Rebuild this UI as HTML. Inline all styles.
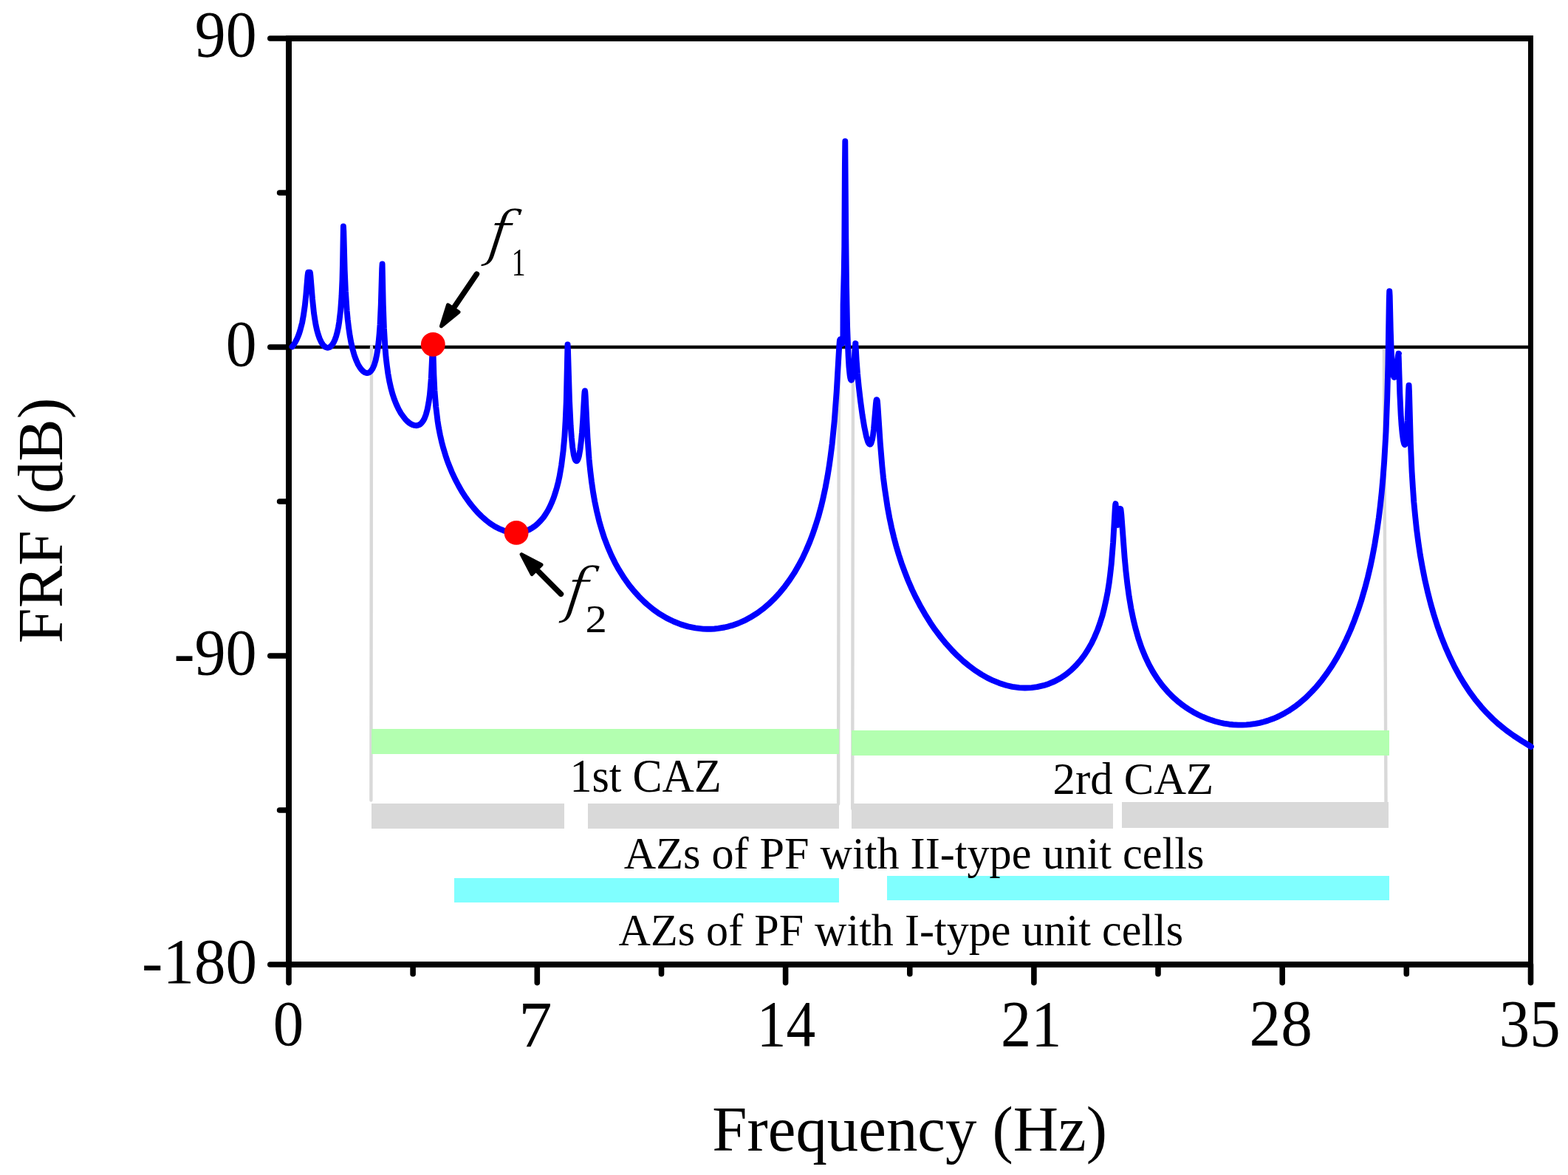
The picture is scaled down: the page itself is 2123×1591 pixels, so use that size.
<!DOCTYPE html>
<html lang="en">
<head>
<meta charset="utf-8">
<title>FRF (dB) vs Frequency (Hz)</title>
<style>
html,body{margin:0;padding:0;background:#fff;}
body{width:2123px;height:1591px;font-family:"Liberation Serif",serif;}
svg{display:block;}
</style>
</head>
<body>
<svg width="2123" height="1591" viewBox="0 0 2123 1591" font-family="'Liberation Serif', serif" font-size="100px" fill="#000" role="img" aria-label="FRF (dB) versus Frequency (Hz)">
<rect width="2123" height="1591" fill="#fff"/>
<g stroke="#000" fill="none">
<g fill="#000" stroke="none"><rect x="387" y="48" width="1689" height="8"/><rect x="387" y="1302" width="1689" height="8"/><rect x="387" y="48" width="8" height="1262"/><rect x="2069" y="48" width="7" height="1262"/></g>
<g stroke-width="7.6" stroke-linecap="round">
<line x1="365.8" y1="52.0" x2="391.0" y2="52.0"/>
<line x1="365.8" y1="470.0" x2="391.0" y2="470.0"/>
<line x1="365.8" y1="888.0" x2="391.0" y2="888.0"/>
<line x1="365.8" y1="1306.0" x2="391.0" y2="1306.0"/>
<line x1="378.6" y1="261.0" x2="391.0" y2="261.0"/>
<line x1="378.6" y1="679.0" x2="391.0" y2="679.0"/>
<line x1="378.6" y1="1097.0" x2="391.0" y2="1097.0"/>
<line x1="391.0" y1="1306.0" x2="391.0" y2="1330.6"/>
<line x1="727.3" y1="1306.0" x2="727.3" y2="1330.6"/>
<line x1="1063.6" y1="1306.0" x2="1063.6" y2="1330.6"/>
<line x1="1399.9" y1="1306.0" x2="1399.9" y2="1330.6"/>
<line x1="1736.2" y1="1306.0" x2="1736.2" y2="1330.6"/>
<line x1="2072.5" y1="1306.0" x2="2072.5" y2="1330.6"/>
<line x1="559.1" y1="1306.0" x2="559.1" y2="1318.8"/>
<line x1="895.5" y1="1306.0" x2="895.5" y2="1318.8"/>
<line x1="1231.8" y1="1306.0" x2="1231.8" y2="1318.8"/>
<line x1="1568.0" y1="1306.0" x2="1568.0" y2="1318.8"/>
<line x1="1904.3" y1="1306.0" x2="1904.3" y2="1318.8"/>
</g>
<line x1="391.0" y1="470.0" x2="2072.5" y2="470.0" stroke-width="4.6"/>
</g>
<g stroke="#d9d9d9" stroke-width="4.4" stroke-linecap="round" fill="none">
<line x1="503.0" y1="469.5" x2="502.4" y2="1083.5"/>
<line x1="1135.8" y1="474" x2="1135.1" y2="1088.5"/>
<line x1="1155.0" y1="474" x2="1154.2" y2="1095"/>
<line x1="1873.9" y1="474" x2="1876.5" y2="1086"/>
</g>
<g>
<rect x="503" y="987" width="633" height="34" fill="#b3ffb0"/>
<rect x="1153" y="989" width="728" height="34" fill="#b3ffb0"/>
<rect x="503" y="1088" width="261" height="34" fill="#d9d9d9"/>
<rect x="796" y="1088" width="340" height="34" fill="#d9d9d9"/>
<rect x="1153" y="1088" width="354" height="34" fill="#d9d9d9"/>
<rect x="1519" y="1086" width="361" height="35" fill="#d9d9d9"/>
<rect x="615" y="1189" width="521" height="33" fill="#80ffff"/>
<rect x="1201" y="1186" width="680" height="33" fill="#80ffff"/>
</g>
<path d="M395.5 469.5 397.7 466.7 399.7 463.5 401.6 459.9 403.3 456.2 404.9 452.0 406.4 447.3 409.1 437.0 411.0 426.5 412.8 413.9 414.3 399.6 416.5 373.3 417.0 369.7 417.3 368.7 419.7 368.7 420.0 369.7 420.4 373.1 423.0 404.9 425.0 423.9 426.3 432.4 427.6 440.1 429.1 446.9 430.8 452.9 432.7 458.4 435.0 463.3 437.4 467.0 439.9 469.4 441.0 470.1 442.4 470.6 443.7 470.8 445.1 470.5 446.5 470.0 447.6 469.2 449.9 466.7 451.8 463.7 453.5 459.9 455.2 455.1 456.7 449.5 458.1 443.0 459.2 436.3 461.1 420.2 462.5 401.1 463.5 378.5 464.1 353.5 464.9 306.4 464.9 306.4 465.3 312.9 466.7 366.2 467.9 394.2 469.7 421.1 470.8 432.7 472.2 444.4 473.7 454.8 475.6 465.0 477.5 473.0 479.7 480.8 482.1 487.4 484.8 493.5 487.7 498.2 489.3 500.3 490.9 502.0 492.4 503.4 494.0 504.3 495.6 504.9 496.9 505.1 498.4 504.9 499.7 504.4 501.1 503.5 502.3 502.3 504.6 499.0 506.7 494.2 508.6 487.9 510.1 480.8 511.5 472.1 512.6 463.1 513.7 451.3 514.6 439.2 515.8 412.4 517.2 363.7 517.6 357.4 517.6 357.4 518.8 413.4 519.9 444.2 521.6 472.3 522.6 484.3 523.9 495.1 525.4 506.1 527.2 516.1 529.2 525.1 531.4 533.2 533.8 540.5 536.7 547.7 539.7 554.1 542.9 559.7 547.3 565.8 549.3 568.2 551.7 570.6 554.1 572.6 556.5 574.2 558.9 575.3 560.9 575.9 563.1 576.2 565.0 576.1 566.8 575.5 568.6 574.6 570.3 573.2 571.9 571.3 573.4 569.0 574.6 566.8 576.8 561.1 578.7 553.9 580.4 545.1 581.9 534.5 582.8 524.7 583.8 512.3 585.7 471.3 586.2 467.0 586.2 467.0 587.4 507.5 588.4 528.7 590.2 550.6 592.5 569.8 593.9 578.8 595.9 589.0 598.1 598.7 600.3 606.9 603.1 616.2 605.7 624.1 608.7 631.8 611.8 639.3 616.4 649.2 620.8 657.5 625.4 665.6 630.4 673.3 635.7 680.7 641.2 687.6 646.9 694.1 652.0 699.1 658.1 704.5 663.4 708.6 669.7 712.7 675.1 715.6 681.4 718.2 686.8 719.9 693.1 721.0 698.4 721.3 703.6 720.9 707.8 720.2 712.7 718.7 716.7 717.0 721.3 714.3 725.0 711.7 728.6 708.6 732.0 705.1 735.9 700.4 738.9 696.0 741.8 691.3 744.5 686.1 747.5 679.4 749.9 673.3 752.0 666.8 754.0 660.0 755.9 652.7 757.6 644.9 760.2 629.6 762.6 610.6 764.4 591.2 765.7 568.9 766.8 543.1 768.5 466.4 768.6 466.4 769.0 474.5 771.0 542.0 772.7 576.9 773.9 592.9 775.2 605.5 776.7 615.4 777.6 618.9 778.4 621.6 779.2 623.3 780.2 624.3 781.0 624.2 782.0 623.0 782.9 620.8 783.9 617.5 785.5 608.6 786.8 598.1 788.0 585.4 789.2 568.7 791.1 535.8 791.5 530.8 791.9 529.2 792.0 529.2 792.3 530.8 792.7 536.4 795.5 592.5 797.6 621.8 799.3 638.4 800.9 651.6 803.1 666.7 805.2 678.8 808.1 692.6 811.3 705.8 815.0 718.5 818.3 728.7 822.8 740.4 827.7 751.7 833.0 762.6 837.8 771.2 845.1 782.8 851.8 792.2 859.0 801.0 866.6 809.3 871.9 814.5 876.0 818.2 884.5 825.2 893.3 831.4 902.5 836.9 912.0 841.5 921.7 845.4 931.6 848.4 941.7 850.4 951.9 851.6 957.0 851.8 962.1 851.8 967.3 851.5 972.4 850.9 980.9 849.5 986.0 848.3 991.1 846.9 999.5 844.0 1007.7 840.4 1015.8 836.1 1025.4 830.1 1033.1 824.4 1040.6 818.1 1047.8 811.2 1056.2 802.1 1062.8 793.9 1069.2 785.2 1075.3 775.9 1081.0 766.1 1086.5 755.8 1091.6 744.9 1096.4 733.6 1100.0 724.2 1104.2 711.9 1108.2 699.1 1111.8 685.8 1114.4 674.8 1117.5 660.5 1120.3 645.6 1122.8 630.1 1124.6 617.3 1126.7 600.7 1129.8 569.5 1132.7 530.1 1136.2 469.8 1136.8 462.1 1137.1 460.2 1137.4 459.7 1137.4 459.7 1140.3 465.4 1141.4 459.3 1141.6 412.3 1142.7 370.6 1143.3 333.8 1143.9 225.3 1144.3 191.2 1144.3 191.2 1145.3 323.3 1146.0 385.0 1147.1 442.6 1148.6 481.8 1149.5 497.2 1150.6 507.9 1151.2 511.5 1151.8 513.7 1152.5 514.7 1152.8 514.6 1153.2 514.2 1153.7 512.8 1154.3 510.1 1155.5 501.9 1156.5 490.2 1157.9 468.8 1158.2 465.9 1158.4 465.0 1158.2 465.0 1158.5 467.2 1159.7 488.3 1161.0 505.6 1162.8 524.0 1165.1 543.5 1167.6 562.0 1170.3 578.3 1172.8 590.3 1175.0 597.8 1175.9 599.8 1176.8 601.1 1177.6 601.7 1178.3 601.6 1179.1 600.8 1179.7 599.5 1181.1 594.6 1182.1 588.7 1183.0 581.2 1185.9 546.8 1186.4 542.5 1186.8 541.2 1187.3 541.2 1187.6 541.7 1187.9 543.3 1188.4 548.7 1191.8 600.0 1194.5 632.4 1196.0 646.9 1197.8 661.0 1201.5 685.7 1204.4 701.5 1207.1 714.3 1210.1 726.9 1213.3 739.1 1216.9 751.1 1220.7 762.8 1224.9 774.2 1229.3 785.5 1235.0 798.6 1240.1 809.2 1246.6 821.6 1252.4 831.6 1259.6 843.2 1265.9 852.4 1273.9 863.0 1280.8 871.4 1289.3 880.9 1296.6 888.2 1304.1 895.1 1311.8 901.4 1321.1 908.3 1329.0 913.4 1336.9 917.9 1344.9 921.7 1353.0 924.9 1362.5 928.0 1370.5 929.8 1379.9 931.1 1387.7 931.5 1396.8 931.1 1404.2 930.2 1412.9 928.2 1419.9 925.9 1428.0 922.5 1435.8 918.2 1443.2 913.2 1450.2 907.5 1456.7 901.1 1462.9 894.1 1468.6 886.5 1473.0 879.6 1478.0 870.9 1481.7 863.1 1485.9 853.3 1489.0 844.6 1492.5 833.7 1495.0 824.0 1497.7 811.9 1499.8 801.2 1501.6 789.9 1503.1 778.2 1504.8 763.3 1507.1 734.5 1509.8 687.5 1510.2 683.2 1510.5 682.0 1510.5 682.0 1511.1 688.0 1512.0 702.4 1512.9 708.9 1513.3 710.1 1513.6 710.8 1514.0 710.6 1514.4 709.6 1515.4 705.1 1516.5 693.0 1517.0 688.8 1517.0 688.8 1517.4 689.4 1517.6 690.6 1518.3 696.8 1522.7 755.4 1524.4 773.3 1526.4 790.8 1528.7 807.7 1531.4 823.7 1534.5 838.7 1537.4 850.6 1541.2 864.1 1545.5 876.7 1550.3 888.5 1555.5 899.6 1561.2 910.0 1567.4 919.6 1574.1 928.6 1581.3 936.9 1585.1 940.8 1590.3 945.8 1594.3 949.3 1599.8 953.7 1605.6 957.9 1611.5 961.7 1617.6 965.3 1622.3 967.7 1628.6 970.7 1633.5 972.7 1640.1 975.1 1645.2 976.7 1652.0 978.5 1657.2 979.6 1664.2 980.7 1669.5 981.2 1676.6 981.6 1682.0 981.6 1687.4 981.4 1692.8 980.9 1700.0 979.9 1705.4 978.8 1710.8 977.5 1716.2 975.9 1723.4 973.3 1728.7 971.1 1734.0 968.5 1739.3 965.7 1744.5 962.7 1749.6 959.3 1754.7 955.7 1759.7 951.8 1768.0 944.7 1775.9 936.8 1782.2 930.1 1789.7 920.9 1796.9 911.1 1803.9 900.7 1810.6 889.6 1816.9 878.0 1822.9 865.7 1828.6 853.0 1833.9 839.7 1838.9 825.9 1843.6 811.7 1847.9 796.9 1851.9 781.7 1855.6 766.0 1858.3 753.0 1861.4 736.4 1864.2 719.1 1866.8 701.2 1868.6 686.4 1870.7 667.2 1872.5 647.1 1874.1 626.1 1876.5 585.1 1878.2 539.2 1879.4 493.4 1880.8 405.2 1881.2 394.2 1881.3 394.2 1881.7 400.5 1882.8 447.9 1883.7 474.1 1884.7 493.2 1886.0 505.4 1886.7 509.1 1887.4 510.8 1887.8 511.0 1888.2 510.8 1889.0 508.9 1889.7 505.8 1890.5 500.9 1892.9 481.5 1893.4 479.3 1893.9 478.6 1893.5 478.6 1893.8 484.9 1895.3 533.4 1896.7 562.2 1897.6 575.7 1898.7 587.3 1899.8 595.5 1901.0 600.6 1901.5 601.8 1902.0 602.2 1902.5 601.8 1902.9 600.8 1903.8 596.2 1904.5 589.0 1905.7 569.5 1907.1 527.7 1907.5 521.8 1907.6 521.8 1908.0 530.3 1909.9 600.1 1911.6 638.8 1912.9 659.8 1914.3 679.6 1916.1 698.5 1918.0 716.6 1920.3 734.1 1922.8 751.0 1925.7 767.3 1929.3 785.4 1932.8 800.7 1937.1 817.6 1941.2 831.9 1946.2 847.6 1951.6 862.6 1957.3 876.9 1963.3 890.3 1969.4 902.9 1975.8 914.7 1982.3 925.5 1989.6 936.7 1997.0 946.7 2005.1 956.6 2013.0 965.3 2021.3 973.6 2029.8 981.2 2039.5 989.0 2049.4 996.1 2060.5 1003.4 2073.0 1011.0" fill="none" stroke="#0000ff" stroke-width="7.9" stroke-linejoin="round" stroke-linecap="round"/>
<g>
<text transform="matrix(0.8376 0 0 0.8806 263.79 76.04)">90</text>
<text transform="matrix(0.8357 0 0 0.8806 305.66 495.14)">0</text>
<text transform="matrix(0.8424 0 0 0.8821 235.43 913.14)">-90</text>
<text transform="matrix(0.8514 0 0 0.8647 192.09 1330.97)">-180</text>
<text transform="matrix(0.8286 0 0 0.8776 369.69 1415.14)">0</text>
<text transform="matrix(0.9050 0 0 0.8862 702.16 1416.90)">7</text>
<text transform="matrix(0.7933 0 0 0.8864 1024.76 1416.20)">14</text>
<text transform="matrix(0.8233 0 0 0.8864 1355.01 1416.20)">21</text>
<text transform="matrix(0.8533 0 0 0.8851 1691.49 1415.13)">28</text>
<text transform="matrix(0.8275 0 0 0.9091 2029.86 1416.69)">35</text>
<text transform="matrix(0.8483 0 0 0.8633 964.36 1557.77)">Frequency (Hz)</text>
<text transform="matrix(0 -0.8615 0.8678 0 84.18 871.28)">FRF (dB)</text>
<text transform="matrix(0.6003 0 0 0.6353 771.50 1071.73)">1st CAZ</text>
<text transform="matrix(0.6074 0 0 0.6211 1425.57 1074.66)">2rd CAZ</text>
<text transform="matrix(0.6020 0 0 0.6120 844.70 1176.35)">AZs of PF with II-type unit cells</text>
<text transform="matrix(0.6011 0 0 0.6141 837.60 1280.40)">AZs of PF with I-type unit cells</text>
<text transform="matrix(0.8164 0 -0.1061 0.8211 657.41 344.48)" font-style="italic" style="font-family:'DejaVu Serif',serif;stroke:#fff;stroke-width:1.8px;">f</text>
<text transform="matrix(0.3771 0 0 0.5182 692.71 373.10)">1</text>
<text transform="matrix(0.8119 0 -0.1056 0.8232 762.68 827.44)" font-style="italic" style="font-family:'DejaVu Serif',serif;stroke:#fff;stroke-width:1.8px;">f</text>
<text transform="matrix(0.5875 0 0 0.5308 792.45 856.20)">2</text>
</g>
<line x1="645.4" y1="371.2" x2="614.0" y2="417.3" stroke="#000" stroke-width="7.5" stroke-linecap="round"/><path d="M597.4 441.7 L606.5 412.8 L621.0 422.6 Z" fill="#000" stroke="#000" stroke-width="5.0" stroke-linejoin="round"/>
<line x1="759.5" y1="804.3" x2="726.9" y2="771.6" stroke="#000" stroke-width="7.5" stroke-linecap="round"/><path d="M706.1 750.6 L733.0 764.8 L720.2 777.5 Z" fill="#000" stroke="#000" stroke-width="5.0" stroke-linejoin="round"/>
<circle cx="586.3" cy="466.3" r="16.4" fill="#ff0000"/>
<circle cx="699.1" cy="721.4" r="16.4" fill="#ff0000"/>
</svg>
</body>
</html>
